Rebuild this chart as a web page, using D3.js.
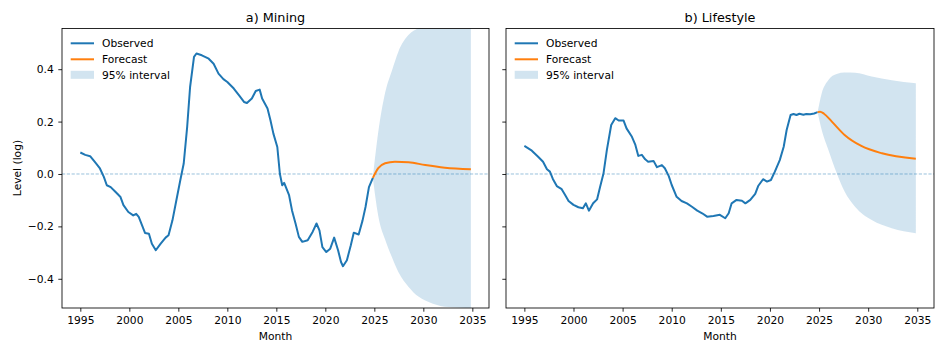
<!DOCTYPE html>
<html>
<head>
<meta charset="utf-8">
<script src="https://cdn.jsdelivr.net/npm/d3@7"></script>
<style>
  html, body { margin: 0; padding: 0; background: #fff; }
  svg { display: block; font-family: "DejaVu Sans", sans-serif; }
</style>
</head>
<body>
<svg id="chart" width="947" height="355"></svg>
<script>
// ---------------- DATA ----------------
const panelTitles = ["a) Mining", "b) Lifestyle"];
const xTicks = [1995, 2000, 2005, 2010, 2015, 2020, 2025, 2030, 2035];
const yTicks = [-0.4, -0.2, 0.0, 0.2, 0.4];
const legendLabels = ["Observed", "Forecast", "95% interval"];

// Mining observed
const miningObsYears = [1995.0,1995.5,1996.0,1996.5,1997.0,1997.4,1997.7,1998.1,1998.6,1999.1,1999.4,1999.9,2000.4,2000.7,2000.96,2001.3,2001.6,2002.0,2002.3,2002.7,2003.2,2003.7,2004.0,2004.4,2004.8,2005.2,2005.55,2005.9,2006.2,2006.6,2006.85,2007.4,2008.1,2008.6,2009.1,2009.6,2010.0,2010.66,2011.2,2011.7,2012.0,2012.5,2012.9,2013.3,2013.55,2014.1,2014.4,2014.7,2015.1,2015.36,2015.6,2015.8,2016.3,2016.6,2016.96,2017.3,2017.65,2018.2,2018.7,2019.1,2019.4,2019.7,2020.1,2020.5,2020.9,2021.3,2021.6,2021.8,2022.2,2022.6,2022.9,2023.4,2023.8,2024.1,2024.45,2024.85];
const miningObs = [0.082,0.073,0.068,0.045,0.021,-0.011,-0.043,-0.050,-0.069,-0.088,-0.119,-0.145,-0.158,-0.152,-0.164,-0.196,-0.225,-0.228,-0.266,-0.291,-0.266,-0.243,-0.234,-0.177,-0.100,-0.024,0.040,0.179,0.332,0.447,0.460,0.453,0.440,0.421,0.383,0.362,0.351,0.326,0.300,0.275,0.271,0.288,0.317,0.322,0.288,0.250,0.205,0.154,0.103,0.001,-0.043,-0.034,-0.081,-0.139,-0.189,-0.240,-0.259,-0.253,-0.221,-0.189,-0.215,-0.279,-0.298,-0.285,-0.243,-0.291,-0.336,-0.352,-0.329,-0.272,-0.224,-0.231,-0.177,-0.126,-0.050,-0.015];
// Mining forecast
const miningFcYears = [2024.85,2025.4,2026.1,2027.1,2028.5,2030.2,2032.2,2034.85];
const miningFc = [-0.015,0.022,0.041,0.047,0.045,0.034,0.024,0.018];
// Mining 95% interval
const miningBandYears = [2024.85,2025.4,2026.1,2026.8,2027.45,2028.5,2029.5,2030.9,2032.6,2034.85];
const miningUpper = [-0.015,0.160,0.310,0.395,0.467,0.531,0.556,0.570,0.570,0.570];
const miningLower = [-0.015,-0.160,-0.250,-0.318,-0.374,-0.431,-0.468,-0.494,-0.508,-0.512];

// Lifestyle observed
const lifeObsYears = [1995.0,1995.76,1996.4,1996.9,1997.3,1997.6,1997.9,1998.3,1998.8,1999.15,1999.5,2000.0,2000.5,2000.96,2001.26,2001.57,2002.0,2002.4,2002.7,2003.06,2003.4,2003.84,2004.25,2004.6,2005.1,2005.4,2005.95,2006.3,2006.6,2006.96,2007.3,2007.6,2008.15,2008.5,2009.0,2009.3,2009.7,2010.0,2010.5,2011.0,2011.55,2012.06,2012.6,2013.1,2013.6,2014.25,2014.9,2015.45,2015.8,2016.1,2016.6,2017.15,2017.5,2018.0,2018.5,2018.8,2019.3,2019.7,2020.1,2020.5,2021.0,2021.4,2021.7,2022.1,2022.4,2022.7,2023.0,2023.4,2023.7,2024.1,2024.5,2024.85];
const lifeObs = [0.107,0.089,0.066,0.047,0.018,0.009,-0.019,-0.046,-0.058,-0.080,-0.103,-0.118,-0.127,-0.131,-0.112,-0.140,-0.112,-0.097,-0.051,0.003,0.092,0.187,0.213,0.204,0.204,0.174,0.142,0.111,0.069,0.073,0.056,0.047,0.050,0.026,0.034,0.022,-0.008,-0.042,-0.087,-0.103,-0.112,-0.125,-0.140,-0.150,-0.163,-0.160,-0.156,-0.169,-0.150,-0.112,-0.099,-0.102,-0.112,-0.099,-0.076,-0.046,-0.020,-0.029,-0.023,0.009,0.053,0.104,0.168,0.225,0.229,0.225,0.230,0.226,0.229,0.228,0.231,0.236];
// Lifestyle forecast
const lifeFcYears = [2024.85,2025.1,2025.5,2026.3,2027.6,2029.3,2031.4,2034.85];
const lifeFc = [0.236,0.238,0.230,0.200,0.149,0.107,0.079,0.058];
// Lifestyle 95% interval
const lifeBandYears = [2024.85,2025.27,2025.95,2026.8,2027.6,2028.66,2030.36,2032.4,2034.85];
const lifeUpper = [0.236,0.308,0.359,0.382,0.387,0.386,0.372,0.358,0.346];
const lifeLower = [0.236,0.168,0.092,0.003,-0.067,-0.125,-0.176,-0.207,-0.226];

// ---------------- DRAW ----------------
const C0 = "#1f77b4", C1 = "#ff7f0e";
const svg = d3.select("#chart");
svg.append("rect").attr("width", 947).attr("height", 355).attr("fill", "#fff");

const axTop = 28.5, axBottom = 308;
const panels = [
  { left: 62, right: 489, title: panelTitles[0], obsX: miningObsYears, obsY: miningObs, fcX: miningFcYears, fcY: miningFc, bX: miningBandYears, bU: miningUpper, bL: miningLower, yLabels: true },
  { left: 506, right: 934, title: panelTitles[1], obsX: lifeObsYears, obsY: lifeObs, fcX: lifeFcYears, fcY: lifeFc, bX: lifeBandYears, bU: lifeUpper, bL: lifeLower, yLabels: false }
];

const y = d3.scaleLinear().domain([-0.5115, 0.5553]).range([axBottom, axTop]);
const fmtY = d3.format(".1f");

panels.forEach((p, i) => {
  const x = d3.scaleLinear().domain([1993.13, 2036.70]).range([p.left, p.right]);
  const g = svg.append("g");
  const clipId = "clip" + i;
  svg.append("clipPath").attr("id", clipId).append("rect")
    .attr("x", p.left).attr("y", axTop).attr("width", p.right - p.left).attr("height", axBottom - axTop);
  const plot = g.append("g").attr("clip-path", `url(#${clipId})`);

  // band
  const band = p.bX.map((t, k) => ({ t, u: p.bU[k], l: p.bL[k] }));
  plot.append("path").datum(band)
    .attr("d", d3.area().curve(d3.curveMonotoneX).x(d => x(d.t)).y0(d => y(d.l)).y1(d => y(d.u)))
    .attr("fill", C0).attr("fill-opacity", 0.2);

  // zero line
  plot.append("line").attr("x1", p.left).attr("x2", p.right).attr("y1", y(0)).attr("y2", y(0))
    .attr("stroke", C0).attr("stroke-opacity", 0.5).attr("stroke-width", 0.9)
    .attr("stroke-dasharray", "3.2,1.6");

  // observed
  const obs = p.obsX.map((t, k) => [t, p.obsY[k]]);
  plot.append("path").datum(obs)
    .attr("d", d3.line().x(d => x(d[0])).y(d => y(d[1])))
    .attr("fill", "none").attr("stroke", C0).attr("stroke-width", 2).attr("stroke-linejoin", "round");

  // forecast
  const fc = p.fcX.map((t, k) => [t, p.fcY[k]]);
  plot.append("path").datum(fc)
    .attr("d", d3.line().curve(d3.curveMonotoneX).x(d => x(d[0])).y(d => y(d[1])))
    .attr("fill", "none").attr("stroke", C1).attr("stroke-width", 2);

  // axes
  const xAxis = d3.axisBottom(x).tickValues(xTicks).tickFormat(d3.format("d")).tickSizeInner(3.7).tickSizeOuter(0).tickPadding(5);
  const gx = g.append("g").attr("transform", `translate(0,${axBottom})`).call(xAxis);
  const yAxis = d3.axisLeft(y).tickValues(yTicks).tickSizeInner(3.7).tickSizeOuter(0).tickPadding(4.5)
    .tickFormat(p.yLabels ? fmtY : () => "");
  const gy = g.append("g").attr("transform", `translate(${p.left},0)`).call(yAxis);
  [gx, gy].forEach(a => {
    a.select(".domain").remove();
    a.selectAll("text").attr("font-size", "10.7px").attr("fill", "#000").attr("font-family", "DejaVu Sans");
    a.selectAll("line").attr("stroke", "#000").attr("stroke-width", 0.85);
  });

  // frame
  g.append("rect").attr("x", p.left).attr("y", axTop).attr("width", p.right - p.left).attr("height", axBottom - axTop)
    .attr("fill", "none").attr("stroke", "#000").attr("stroke-width", 0.85);

  // title
  g.append("text").attr("x", (p.left + p.right) / 2).attr("y", 21.5).attr("text-anchor", "middle")
    .attr("font-size", "12.8px").attr("fill", "#000").text(p.title);
  // x label
  g.append("text").attr("x", (p.left + p.right) / 2).attr("y", 340).attr("text-anchor", "middle")
    .attr("font-size", "10.7px").attr("fill", "#000").text("Month");

  // legend
  const lx = p.left + 8.7;
  const lg = g.append("g");
  lg.append("line").attr("x1", lx).attr("x2", lx + 23.3).attr("y1", 43.3).attr("y2", 43.3)
    .attr("stroke", C0).attr("stroke-width", 2);
  lg.append("line").attr("x1", lx).attr("x2", lx + 23.3).attr("y1", 59.3).attr("y2", 59.3)
    .attr("stroke", C1).attr("stroke-width", 2);
  lg.append("rect").attr("x", lx).attr("y", 70.8).attr("width", 23.3).attr("height", 8)
    .attr("fill", C0).attr("fill-opacity", 0.2);
  legendLabels.forEach((lab, k) => {
    lg.append("text").attr("x", lx + 31.3).attr("y", 47.3 + 16 * k).attr("font-size", "10.7px")
      .attr("fill", "#000").text(lab);
  });
});

// y label
svg.append("text").attr("transform", `translate(21,168) rotate(-90)`).attr("text-anchor", "middle")
  .attr("font-size", "10.7px").attr("fill", "#000").text("Level (log)");
</script>
</body>
</html>
